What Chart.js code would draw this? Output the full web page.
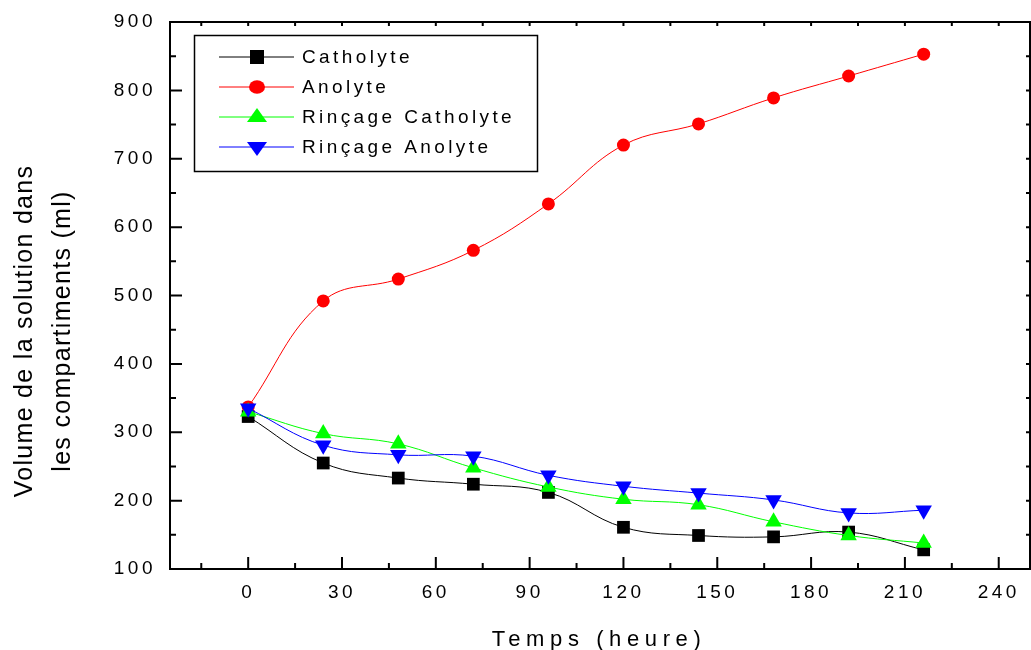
<!DOCTYPE html>
<html>
<head>
<meta charset="utf-8">
<script src="https://cdn.jsdelivr.net/npm/chart.js@4/dist/chart.umd.min.js"></script>
<style>
html,body{margin:0;padding:0;background:#fff;}
#wrap{width:1031px;height:650px;position:relative;}
canvas{display:block;}
</style>
</head>
<body>
<div id="wrap"><canvas id="c" width="1031" height="650"></canvas></div>
<script>
// ---- data ----
const hours = [0, 24, 48, 72, 96, 120, 144, 168, 192, 216];
const catholyte = [323, 255, 233, 224, 212, 161, 149, 147, 154, 128];
const anolyte = [337, 492, 524, 566, 634, 720, 751, 789, 821, 853];
const rincageCatholyte = [330, 298, 283, 248, 220, 202, 194, 169, 149, 138];
const rincageAnolyte = [335, 281, 267, 265, 237, 221, 211, 201, 182, 186];
const xTicks = [0, 30, 60, 90, 120, 150, 180, 210, 240];
const yTicks = [100, 200, 300, 400, 500, 600, 700, 800, 900];
const seriesLabels = ['Catholyte', 'Anolyte', 'Rinçage Catholyte', 'Rinçage Anolyte'];
const xTitle = 'Temps (heure)';
const yTitleLines = ['Volume de la solution dans', 'les compartiments (ml)'];

const FONT = "'Liberation Sans', Arial, sans-serif";
const pts = arr => hours.map((h, i) => ({x: h, y: arr[i]}));

const styles = [
  {color: '#000000', pointStyle: 'rect', pointRadius: 9, rot: 0},
  {color: '#ff0000', pointStyle: 'circle', pointRadius: 6.5, rot: 0},
  {color: '#00ff00', pointStyle: 'triangle', pointRadius: 9.5, rot: 0},
  {color: '#0000ff', pointStyle: 'triangle', pointRadius: 9.5, rot: 180}
];
const seriesData = [catholyte, anolyte, rincageCatholyte, rincageAnolyte];

const datasets = seriesData.map((arr, i) => ({
  label: seriesLabels[i],
  data: pts(arr),
  borderColor: styles[i].color,
  backgroundColor: styles[i].color,
  pointBackgroundColor: styles[i].color,
  pointBorderColor: styles[i].color,
  pointBorderWidth: 0,
  pointStyle: styles[i].pointStyle,
  pointRadius: styles[i].pointRadius,
  pointRotation: styles[i].rot,
  borderWidth: 1,
  tension: 0.4,
  fill: false,
  order: 3 - i
}));

const TICK_LS = '3.5px';
const spacingPlugin = {
  id: 'spacing',
  beforeUpdate(chart) { chart.ctx.letterSpacing = TICK_LS; },
  beforeDraw(chart) { chart.ctx.letterSpacing = TICK_LS; }
};

const decorPlugin = {
  id: 'decor',
  afterDraw(chart) {
    const ctx = chart.ctx;
    const xs = chart.scales.x, ys = chart.scales.y;
    const a = chart.chartArea;
    ctx.save();
    ctx.letterSpacing = '0px';
    ctx.strokeStyle = '#000';
    ctx.lineWidth = 2;
    // frame
    ctx.strokeRect(a.left, a.top, a.right - a.left, a.bottom - a.top);
    // ticks
    ctx.beginPath();
    for (let v = -15; v <= xs.max; v += 15) {
      const px = xs.getPixelForValue(v);
      if (px < a.left + 1 || px > a.right - 1) continue;
      const major = xTicks.includes(v);
      const len = major ? 12 : 6;
      ctx.moveTo(px, a.bottom);
      ctx.lineTo(px, a.bottom - len);
      ctx.moveTo(px, a.top);
      ctx.lineTo(px, a.top + 4);
    }
    for (let v = ys.min; v <= ys.max; v += 50) {
      const py = ys.getPixelForValue(v);
      if (py < a.top + 1 || py > a.bottom - 1) continue;
      const major = yTicks.includes(v);
      const len = major ? 12 : 6;
      ctx.moveTo(a.left, py);
      ctx.lineTo(a.left + len, py);
      ctx.moveTo(a.right, py);
      ctx.lineTo(a.right - 4, py);
    }
    ctx.stroke();

    // x title
    ctx.fillStyle = '#000';
    ctx.font = '22px ' + FONT;
    ctx.letterSpacing = '5.6px';
    ctx.textAlign = 'center';
    ctx.textBaseline = 'alphabetic';
    ctx.fillText(xTitle, 599, 646);

    // y title
    ctx.font = '25px ' + FONT;
    ctx.letterSpacing = '1.3px';
    const bx = [32, 70];
    yTitleLines.forEach((t, i) => {
      ctx.save();
      ctx.translate(bx[i], 331);
      ctx.rotate(-Math.PI / 2);
      ctx.textAlign = 'center';
      ctx.textBaseline = 'alphabetic';
      ctx.fillText(t, 0, 0);
      ctx.restore();
    });

    // legend
    const L = {x: 194.5, y: 35.5, w: 343, h: 136};
    ctx.fillStyle = '#fff';
    ctx.fillRect(L.x, L.y, L.w, L.h);
    ctx.lineWidth = 1.5;
    ctx.strokeStyle = '#000';
    ctx.strokeRect(L.x, L.y, L.w, L.h);
    const rows = [57, 87, 117, 147];
    chart.data.datasets.forEach((ds, i) => {
      const y = rows[i];
      const c = ds.borderColor;
      ctx.strokeStyle = c;
      ctx.lineWidth = 1;
      ctx.beginPath();
      ctx.moveTo(219, y);
      ctx.lineTo(294, y);
      ctx.stroke();
      ctx.fillStyle = c;
      const mx = 257;
      ctx.beginPath();
      if (i === 0) {
        ctx.rect(mx - 7, y - 7, 14, 14);
      } else if (i === 1) {
        ctx.ellipse(mx, y, 8, 6.8, 0, 0, Math.PI * 2);
      } else if (i === 2) {
        ctx.moveTo(mx, y - 9);
        ctx.lineTo(mx + 10, y + 5);
        ctx.lineTo(mx - 10, y + 5);
        ctx.closePath();
      } else {
        ctx.moveTo(mx, y + 9);
        ctx.lineTo(mx + 10, y - 5);
        ctx.lineTo(mx - 10, y - 5);
        ctx.closePath();
      }
      ctx.fill();
      ctx.fillStyle = '#000';
      ctx.font = '19px ' + FONT;
      ctx.letterSpacing = '3.4px';
      ctx.textAlign = 'left';
      ctx.textBaseline = 'middle';
      ctx.fillText(ds.label, 302, y + 1);
    });
    ctx.restore();
  }
};

new Chart(document.getElementById('c'), {
  type: 'line',
  data: {datasets},
  options: {
    responsive: false,
    animation: false,
    devicePixelRatio: 1,
    layout: {autoPadding: false, padding: {top: 22, right: 1, left: 0, bottom: 0}},
    plugins: {legend: {display: false}, tooltip: {enabled: false}, title: {display: false}},
    scales: {
      x: {
        type: 'linear',
        min: -25,
        max: 250,
        grid: {display: false, drawTicks: false},
        border: {display: false},
        afterBuildTicks: s => { s.ticks = xTicks.map(v => ({value: v})); },
        afterFit: s => { s.height = 81; s.paddingLeft = 0; s.paddingRight = 0; },
        ticks: {color: '#000', font: {family: FONT, size: 19}, padding: 12, maxRotation: 0, autoSkip: false}
      },
      y: {
        type: 'linear',
        min: 100,
        max: 900,
        grid: {display: false, drawTicks: false},
        border: {display: false},
        afterBuildTicks: s => { s.ticks = yTicks.map(v => ({value: v})); },
        afterFit: s => { s.width = 170; s.paddingTop = 0; s.paddingBottom = 0; },
        ticks: {color: '#000', font: {family: FONT, size: 19}, padding: 14, autoSkip: false}
      }
    }
  },
  plugins: [spacingPlugin, decorPlugin]
});
</script>
</body>
</html>
